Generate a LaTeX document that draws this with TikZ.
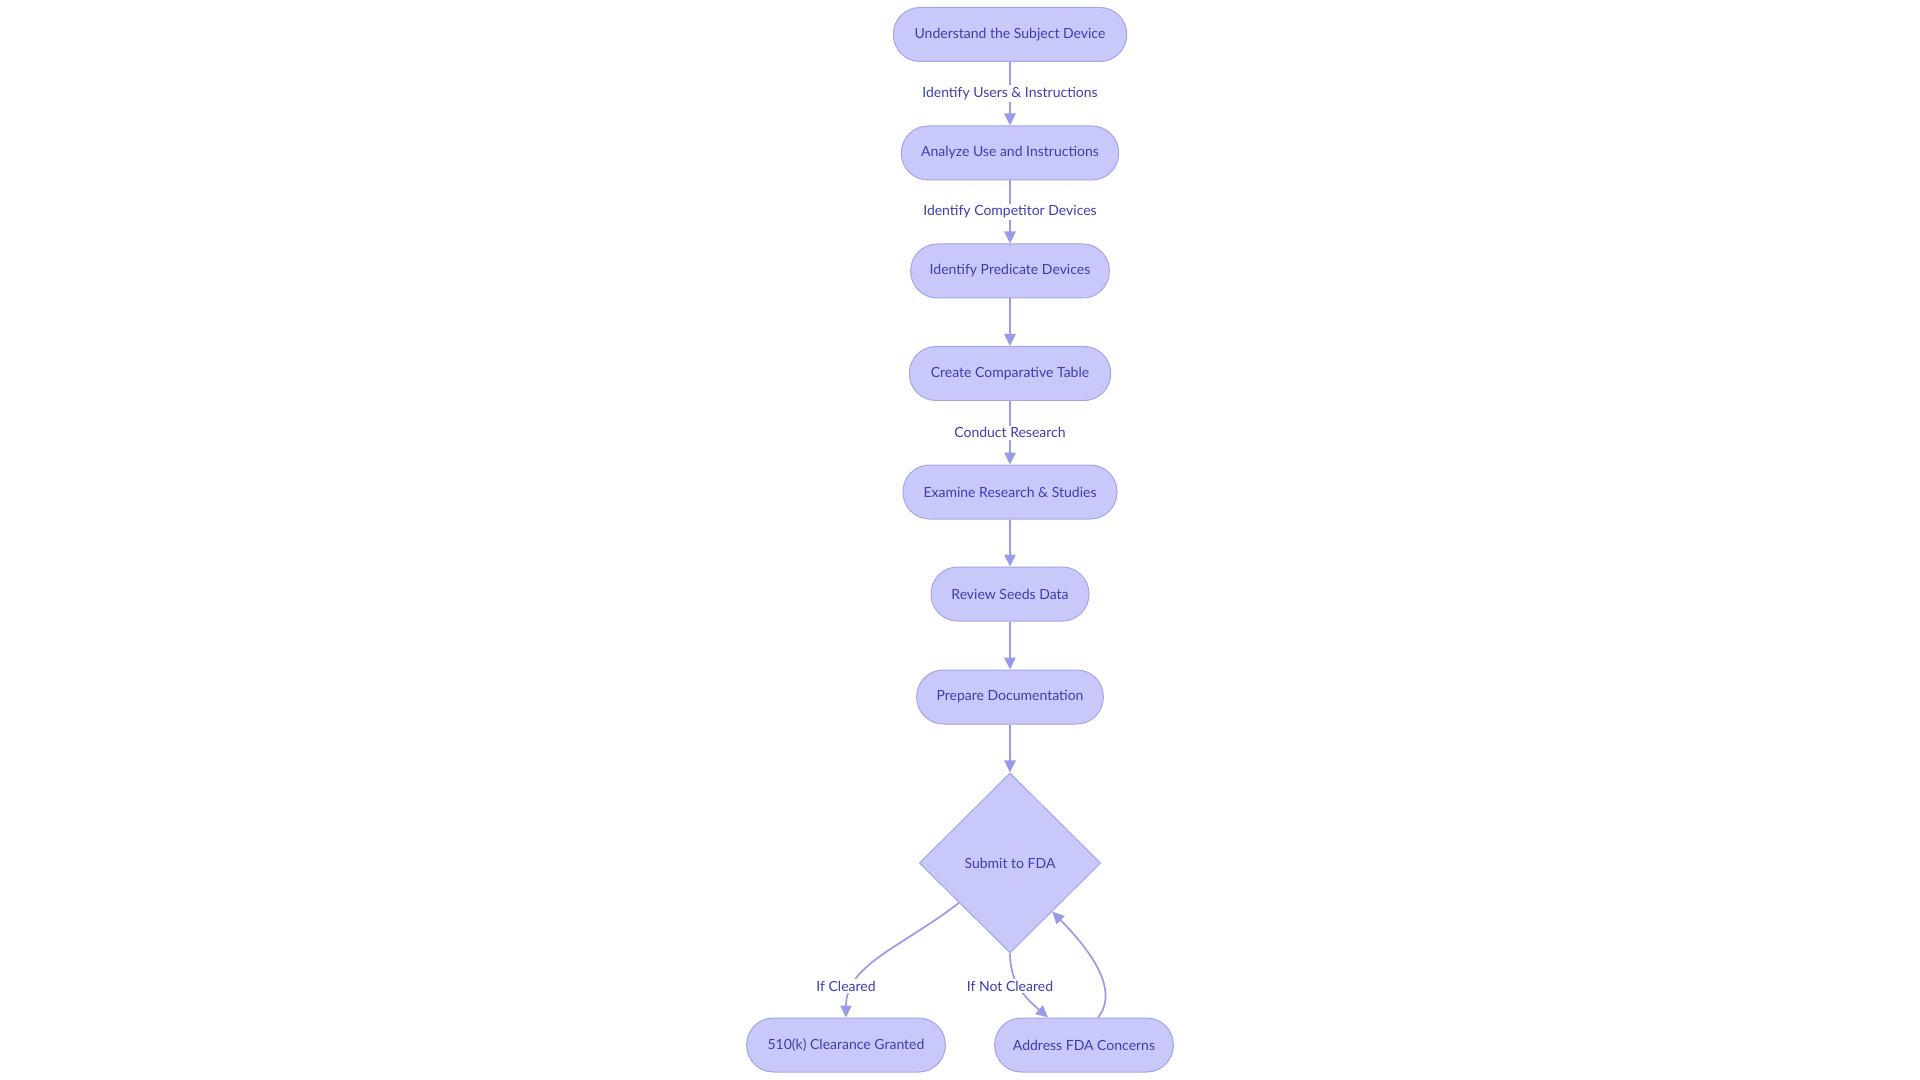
\documentclass[tikz,border=0pt]{standalone}
\usepackage{fontspec}
\setmainfont{Lato}
\usetikzlibrary{shapes.geometric,arrows.meta,calc}
\definecolor{nodefill}{HTML}{C8C9FA}
\definecolor{nodeline}{HTML}{A3A4EE}
\definecolor{edgecol}{HTML}{9A9BE8}
\definecolor{txt}{HTML}{3D3DB4}
\begin{document}
\begin{tikzpicture}[x=0.75pt,y=-0.75pt,
  stepbox/.style={draw=nodeline,fill=nodefill,line width=0.75pt,rounded corners=20pt,
    minimum height=40.5pt,inner sep=0pt,text=txt,font=\fontsize{10.5}{12}\selectfont},
  decision/.style={draw=nodeline,fill=nodefill,line width=0.75pt,diamond,aspect=1,
    minimum width=136pt,minimum height=135pt,inner sep=0pt,text=txt,font=\fontsize{10.5}{12}\selectfont},
  edge/.style={draw=edgecol,line width=1.3pt,-{Triangle[length=9pt,width=8.5pt]}},
  elabel/.style={fill=white,text=txt,inner sep=1.5pt,font=\fontsize{10.5}{12}\selectfont}]
\useasboundingbox (0,0) rectangle (1920,1080);
\node[stepbox,minimum width=175pt] (n1) at (1010,34.5) {Understand the Subject Device};
\node[stepbox,minimum width=163pt] (n2) at (1010,153) {Analyze Use and Instructions};
\node[stepbox,minimum width=149pt] (n3) at (1010,271) {Identify Predicate Devices};
\node[stepbox,minimum width=151pt] (n4) at (1010,373.5) {Create Comparative Table};
\node[stepbox,minimum width=160.5pt] (n5) at (1010,492) {Examine Research \& Studies};
\node[stepbox,minimum width=118.5pt] (n6) at (1010,594) {Review Seeds Data};
\node[stepbox,minimum width=140pt] (n7) at (1010,697) {Prepare Documentation};
\node[decision] (dia) at (1010,863) {Submit to FDA};
\node[stepbox,minimum width=149pt] (ok) at (846,1045) {510(k) Clearance Granted};
\node[stepbox,minimum width=134pt] (addr) at (1084,1045) {Address FDA Concerns};

\draw[edge] (n1) -- node[elabel] {Identify Users \& Instructions} (n2);
\draw[edge] (n2) -- node[elabel] {Identify Competitor Devices} (n3);
\draw[edge] (n3) -- (n4);
\draw[edge] (n4) -- node[elabel] {Conduct Research} (n5);
\draw[edge] (n5) -- (n6);
\draw[edge] (n6) -- (n7);
\draw[edge] (n7) -- (dia);

\draw[edge] (dia.218) .. controls (900,948) and (846,965) .. (ok.north);
\node[elabel] (lc) at (846,986) {If Cleared};
\draw[edge] (dia.south) .. controls (1010,985) and (1028,1000) .. ($(addr.north)+(-36,0)$);
\node[elabel] (lnc) at (1010,986) {If Not Cleared};
\draw[edge] ($(addr.north)+(14,0)$) .. controls (1120,990) and (1090,950) .. (dia.311);
\end{tikzpicture}
\end{document}
